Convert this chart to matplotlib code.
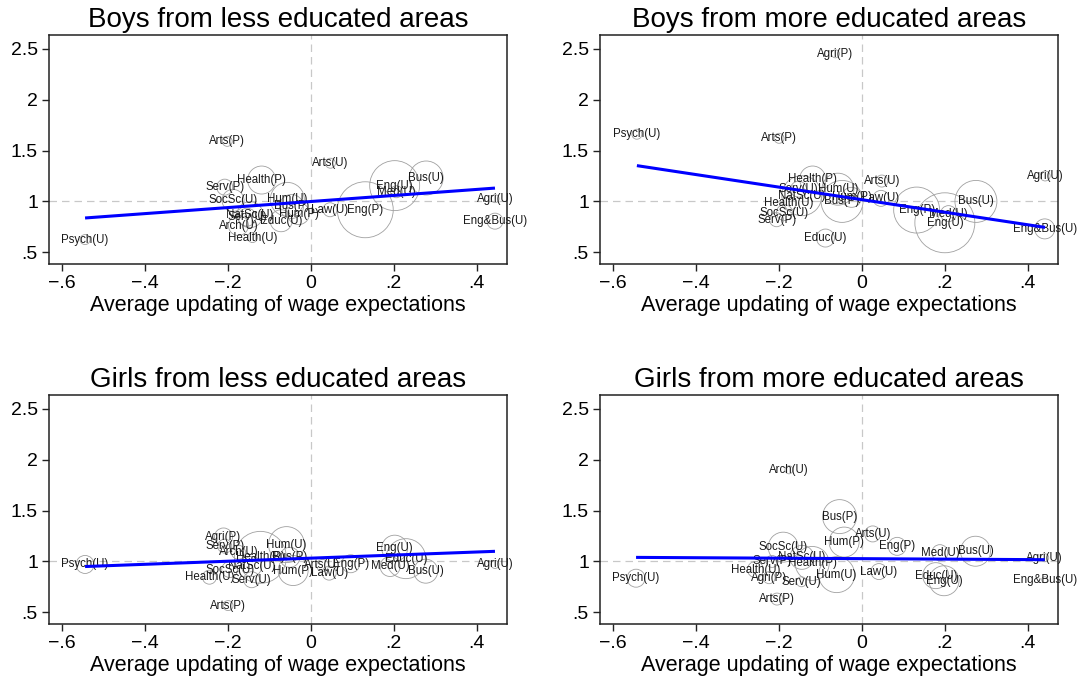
import matplotlib
matplotlib.use("Agg")
import matplotlib.pyplot as plt
import numpy as np

plt.rcParams['font.family'] = ['Liberation Sans', 'DejaVu Sans']

titles = ["Boys from less educated areas", "Boys from more educated areas",
          "Girls from less educated areas", "Girls from more educated areas"]
xlabel = "Average updating of wage expectations"
xticks = [-0.6, -0.4, -0.2, 0, 0.2, 0.4]
xticklabels = ["\u2212.6", "\u2212.4", "\u2212.2", "0", ".2", ".4"]
yticks = [0.5, 1, 1.5, 2, 2.5]
yticklabels = [".5", "1", "1.5", "2", "2.5"]

# boys, less educated areas
bl_lab = ["Psych(U)", "Arts(P)", "Arts(U)", "Health(P)", "Serv(P)", "SocSc(U)", "Hum(U)",
          "Bus(P)", "NatSc(U)", "Serv(U)", "Hum(P)", "Educ(U)", "Arch(U)", "Health(U)",
          "Law(U)", "Eng(P)", "Eng(U)", "Med(U)", "Bus(U)", "Agri(U)", "Eng&Bus(U)"]
bl_x = [-0.545, -0.202, 0.047, -0.119, -0.208, -0.188, -0.057, -0.047, -0.147, -0.154,
        -0.030, -0.072, -0.175, -0.141, 0.046, 0.131, 0.202, 0.206, 0.278, 0.444, 0.444]
bl_y = [0.625, 1.59, 1.375, 1.21, 1.14, 1.01, 1.02, 0.95, 0.87, 0.845,
        0.88, 0.81, 0.763, 0.645, 0.918, 0.918, 1.155, 1.095, 1.23, 1.027, 0.806]
bl_w = [25, 25, 25, 196, 64, 121, 289, 144, 169, 81,
        121, 121, 100, 25, 49, 784, 625, 36, 289, 16, 64]
bl_fit = (0.999, 0.297)  # intercept, slope

# boys, more educated areas
bm_lab = ["Agri(P)", "Psych(U)", "Arts(P)", "Health(P)", "Hum(U)", "Serv(U)", "NatSc(U)",
          "Health(U)", "SocSc(U)", "Serv(P)", "Bus(P)", "Hum(P)", "Educ(U)", "Arts(U)",
          "Law(U)", "Eng(P)", "Med(U)", "Eng(U)", "Bus(U)", "Agri(U)", "Eng&Bus(U)"]
bm_x = [-0.064, -0.543, -0.200, -0.119, -0.058, -0.153, -0.145, -0.176, -0.187, -0.206,
        -0.048, -0.025, -0.088, 0.048, 0.046, 0.132, 0.209, 0.200, 0.275, 0.442, 0.441]
bm_y = [2.45, 1.66, 1.62, 1.22, 1.12, 1.12, 1.056, 0.98, 0.89, 0.82,
        1.00, 1.04, 0.64, 1.20, 1.03, 0.915, 0.88, 0.79, 1.00, 1.25, 0.73]
bm_w = [16, 25, 25, 169, 256, 64, 400, 49, 64, 49,
        441, 100, 81, 36, 64, 529, 64, 900, 441, 25, 100]
bm_fit = (1.017, -0.616)

# girls, less educated areas
gl_lab = ["Psych(U)", "Agri(P)", "Serv(P)", "Arch(U)", "Hum(U)", "Health(P)", "Bus(P)",
          "SocSc(U)", "NatSc(U)", "Health(U)", "Serv(U)", "Hum(P)", "Arts(P)", "Arts(U)",
          "Law(U)", "Eng(P)", "Eng(U)", "Educ(U)", "Med(U)", "Bus(U)", "Agri(U)"]
gl_x = [-0.545, -0.211, -0.208, -0.175, -0.059, -0.122, -0.051, -0.196, -0.143, -0.245,
        -0.143, -0.043, -0.200, 0.028, 0.044, 0.096, 0.202, 0.229, 0.191, 0.277, 0.444]
gl_y = [0.97, 1.24, 1.15, 1.09, 1.165, 1.04, 1.04, 0.92, 0.95, 0.845,
        0.82, 0.91, 0.566, 0.96, 0.885, 0.977, 1.13, 1.027, 0.95, 0.904, 0.97]
gl_w = [81, 81, 49, 49, 324, 676, 100, 64, 100, 49,
        64, 225, 25, 36, 49, 81, 169, 400, 100, 144, 16]
gl_fit = (1.032, 0.151)

# girls, more educated areas
gm_lab = ["Arch(U)", "Bus(P)", "Hum(P)", "Arts(U)", "Eng(P)", "SocSc(U)", "Serv(P)",
          "NatSc(U)", "Health(P)", "Health(U)", "Agri(P)", "Serv(U)", "Hum(U)", "Psych(U)",
          "Arts(P)", "Law(U)", "Med(U)", "Bus(U)", "Educ(U)", "Eng(U)", "Agri(U)", "Eng&Bus(U)"]
gm_x = [-0.176, -0.054, -0.043, 0.026, 0.085, -0.190, -0.217, -0.145, -0.120, -0.257,
        -0.224, -0.146, -0.061, -0.545, -0.205, 0.041, 0.188, 0.274, 0.178, 0.198, 0.441, 0.441]
gm_y = [1.90, 1.44, 1.19, 1.27, 1.148, 1.14, 1.00, 1.04, 0.98, 0.92,
        0.84, 0.80, 0.87, 0.835, 0.63, 0.90, 1.086, 1.10, 0.86, 0.81, 1.036, 0.82]
gm_w = [16, 289, 225, 64, 81, 225, 36, 144, 289, 64,
        36, 25, 324, 81, 36, 64, 64, 225, 169, 225, 16, 9]
gm_fit = (1.027, -0.023)

panels = [(bl_lab, bl_x, bl_y, bl_w, bl_fit), (bm_lab, bm_x, bm_y, bm_w, bm_fit),
          (gl_lab, gl_x, gl_y, gl_w, gl_fit), (gm_lab, gm_x, gm_y, gm_w, gm_fit)]

fig = plt.figure(figsize=(10.85, 6.86), dpi=100)
W, H = 1085, 686
boxes = [(49, 35), (600, 35), (49, 395), (600, 395)]
for k, (lab, x, y, w, fit) in enumerate(panels):
    left, top = boxes[k]
    ax = fig.add_axes([left / W, 1 - (top + 229) / H, 458 / W, 229 / H])
    ax.set_xlim(-0.632, 0.473)
    ax.set_ylim(0.385, 2.635)
    ax.axvline(0, color='#c8c8c8', lw=0.9, ls=(0, (6, 4)), zorder=1)
    ax.axhline(1, color='#c8c8c8', lw=0.9, ls=(0, (6, 4)), zorder=1)
    x = np.array(x)
    ax.scatter(x, y, s=np.array(w) * 2.07, facecolors='none', edgecolors='#a0a0a0',
               linewidths=0.6, zorder=2)
    for t, xi, yi in zip(lab, x, y):
        ax.text(xi, yi, t, fontsize=8.3, color='#1a1a1a', ha='center', va='center',
                zorder=3, clip_on=False)
    xs = np.array([x.min(), x.max()])
    ax.plot(xs, fit[0] + fit[1] * xs, color='#0000ff', lw=2.2, zorder=4,
            solid_capstyle='butt')
    ax.set_xticks(xticks)
    ax.set_xticklabels(xticklabels)
    ax.set_yticks(yticks)
    ax.set_yticklabels(yticklabels)
    ax.tick_params(labelsize=14, length=5, width=1, pad=3, color='#222222')
    for s in ax.spines.values():
        s.set_linewidth(1.1)
        s.set_color('#222222')
    ax.set_title(titles[k], fontsize=20, pad=6)
    ax.set_xlabel(xlabel, fontsize=15.5, labelpad=2)

fig.savefig("out.png", dpi=100, facecolor='white')
